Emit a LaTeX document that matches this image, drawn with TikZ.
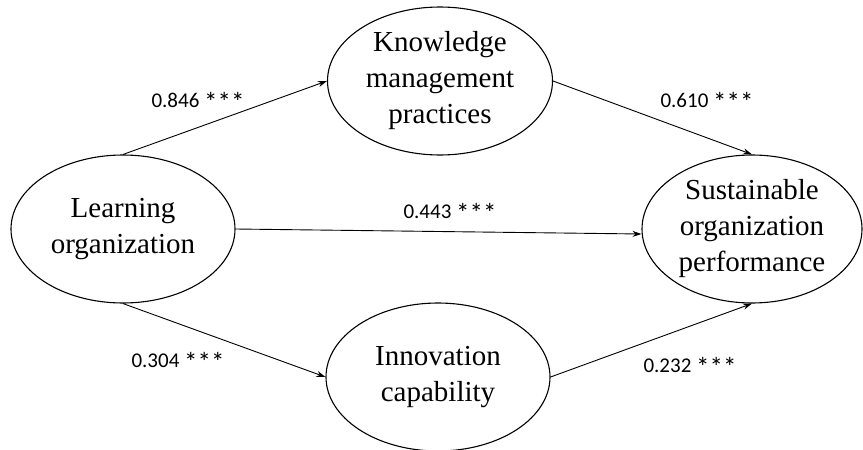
\documentclass[tikz,border=0pt]{standalone}
\usepackage{fontspec}
\setmainfont{Liberation Serif}
\newfontfamily\labelfont{Carlito}
\usetikzlibrary{shapes.geometric,arrows.meta}
\newcommand{\stars}{{\fontsize{27}{24}\selectfont\raisebox{-4pt}{***}}}
\tikzset{
  construct/.style={ellipse,draw,line width=1.1pt,inner sep=0pt,align=center,
    font=\fontsize{29}{36}\selectfont},
  path/.style={line width=0.9pt,-{Stealth[length=9pt,width=6pt]}},
  coef/.style={font=\labelfont\fontsize{21}{24}\selectfont,inner sep=0pt}
}
\begin{document}
\begin{tikzpicture}[x=1pt,y=-1pt]
\useasboundingbox (0,0) rectangle (863,450);
\node[construct,minimum width=224pt,minimum height=148pt] (lo) at (123,229) {Learning\\organization};
\node[construct,minimum width=225pt,minimum height=148pt] (kmp) at (440,81) {Knowledge\\management\\practices};
\node[construct,minimum width=220pt,minimum height=148pt] (sop) at (752,229) {Sustainable\\organization\\performance};
\node[construct,minimum width=224pt,minimum height=148pt] (ic) at (438,377) {Innovation\\capability};
\draw[path] (lo.north) -- (kmp.west);
\draw[path] (kmp.east) -- (sop.north);
\draw[path] (lo.east) -- ([yshift=-5pt]sop.west);
\draw[path] (lo.south) -- (ic.west);
\draw[path] (ic.east) -- (sop.south);
\node[coef,anchor=base] (c1) at (198,107) {0.846 \stars};
\node[coef,anchor=base] (c2) at (707,107) {0.610 \stars};
\node[coef,anchor=base] (c3) at (450,218) {0.443 \stars};
\node[coef,anchor=base] (c4) at (178,367) {0.304 \stars};
\node[coef,anchor=base] (c5) at (690,372) {0.232 \stars};
\end{tikzpicture}
\end{document}
